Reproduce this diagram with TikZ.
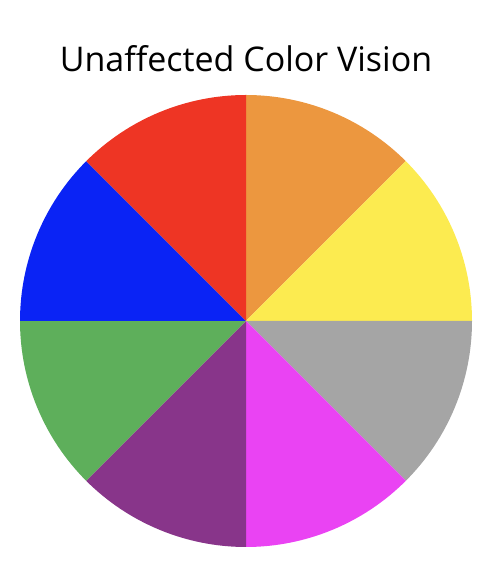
\documentclass[tikz,border=0pt]{standalone}
\usepackage{fontspec}
\setmainfont{Open Sans}
\usepackage{tikz}

\definecolor{wheelorange}{HTML}{EC973F}
\definecolor{wheelyellow}{HTML}{FCEB50}
\definecolor{wheelgray}{HTML}{A5A5A5}
\definecolor{wheelmagenta}{HTML}{EA43F3}
\definecolor{wheelpurple}{HTML}{88358A}
\definecolor{wheelgreen}{HTML}{5EAF5B}
\definecolor{wheelblue}{HTML}{0A23F5}
\definecolor{wheelred}{HTML}{EE3524}

\begin{document}
\begin{tikzpicture}[x=1pt,y=1pt]
  \useasboundingbox (0,0) rectangle (494,572);
  \coordinate (c) at (246,251);
  \fill[wheelorange]  (c) -- ++(90:226)  arc (90:45:226)   -- cycle;
  \fill[wheelyellow]  (c) -- ++(45:226)  arc (45:0:226)    -- cycle;
  \fill[wheelgray]    (c) -- ++(0:226)   arc (0:-45:226)   -- cycle;
  \fill[wheelmagenta] (c) -- ++(-45:226) arc (-45:-90:226) -- cycle;
  \fill[wheelpurple]  (c) -- ++(-90:226) arc (-90:-135:226) -- cycle;
  \fill[wheelgreen]   (c) -- ++(-135:226) arc (-135:-180:226) -- cycle;
  \fill[wheelblue]    (c) -- ++(180:226) arc (180:135:226) -- cycle;
  \fill[wheelred]     (c) -- ++(135:226) arc (135:90:226)  -- cycle;
  \node[anchor=base,font=\fontsize{34}{40}\selectfont,inner sep=0pt] (title) at (246,500)
    {Unaffected Color Vision};
\end{tikzpicture}
\end{document}
